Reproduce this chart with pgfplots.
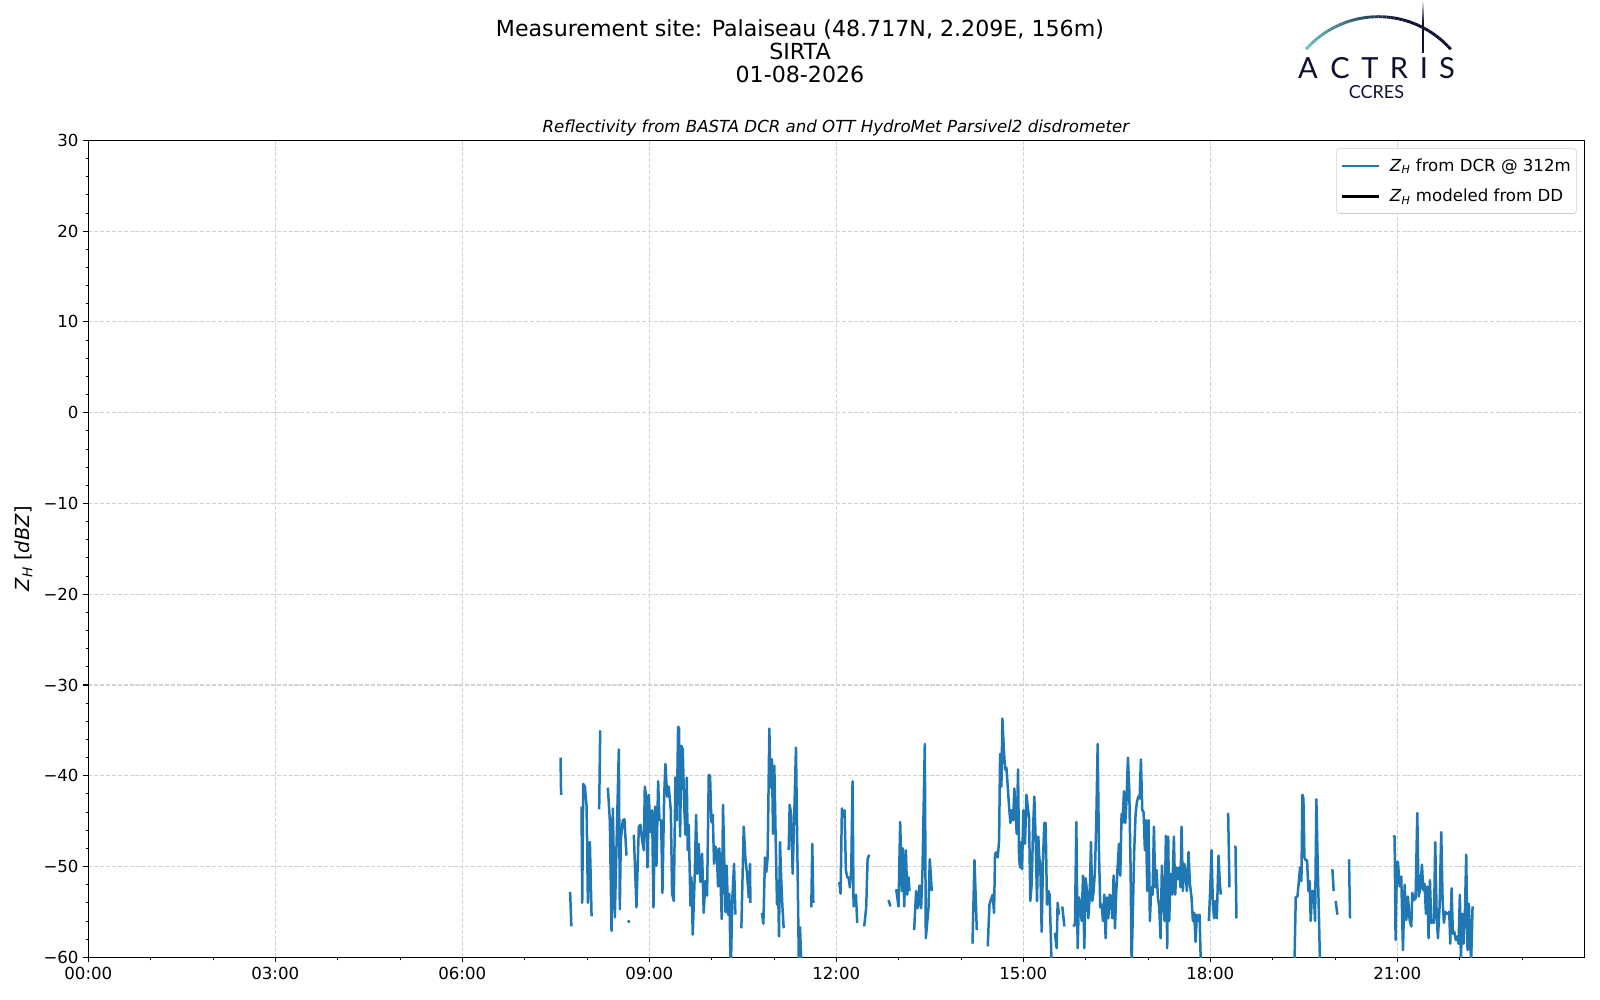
\documentclass[border=0pt]{standalone}
\usepackage{pgfplots}
\pgfplotsset{compat=1.18}
\usepackage{pgfplotstable}
\usepackage{fontspec}
\setmainfont{DejaVu Sans}
\newfontfamily\logofont{Lato}
\definecolor{tabblue}{HTML}{1F77B4}
\definecolor{logonavy}{HTML}{0E1130}
\definecolor{logoteal}{HTML}{6CC3C3}
\definecolor{gridgray}{HTML}{D3D3D3}

\pgfplotstableread{
x y
7.576 -38.0
7.585 -42.1
nan nan
7.73 -52.8
7.75 -56.6
nan nan
7.913 -43.4
7.924 -54.0
7.94 -40.9
7.967 -41.2
7.994 -43.4
8.015 -54.0
8.047 -47.3
8.074 -55.5
nan nan
8.196 -43.7
8.212 -35.0
nan nan
8.335 -41.3
8.367 -44.9
8.394 -57.1
8.415 -43.6
8.447 -55.6
8.511 -37.1
8.527 -54.7
8.543 -47.1
8.575 -44.9
8.601 -44.8
8.634 -48.8
nan nan
8.65 -56.0
8.69 -56.1
nan nan
8.752 -46.5
8.794 -54.5
8.832 -45.6
8.858 -45.4
8.885 -47.1
8.912 -48.2
8.928 -41.2
8.949 -42.3
8.971 -50.1
8.992 -42.1
9.019 -46.2
9.045 -43.8
9.067 -54.5
9.093 -43.4
9.115 -49.9
9.142 -40.6
9.163 -44.9
9.19 -44.9
9.211 -52.9
9.238 -42.3
9.259 -38.7
9.286 -42.3
9.312 -41.2
9.345 -43.8
9.366 -53.0
9.393 -53.8
9.419 -40.2
9.441 -44.9
9.462 -34.6
9.478 -34.8
9.494 -46.7
9.515 -36.7
9.537 -37.1
9.558 -43.0
9.58 -46.5
9.601 -40.2
9.617 -48.2
9.633 -45.4
9.660 -54.3
9.676 -51.2
9.697 -57.5
9.729 -51.0
9.751 -44.3
9.772 -50.8
9.793 -47.5
9.82 -51.7
9.847 -48.6
9.873 -55.1
9.9 -51.6
9.927 -53.2
9.954 -39.9
9.975 -40.0
9.996 -45.1
10.018 -44.3
10.039 -49.7
10.06 -47.8
10.082 -48.2
10.103 -52.2
10.124 -48.0
10.146 -52.2
10.162 -55.8
10.183 -43.2
10.205 -50.1
10.221 -55.0
10.242 -49.9
10.263 -55.3
10.285 -53.0
10.306 -62.0
10.333 -53.4
10.36 -49.7
10.381 -55.3
nan nan
10.477 -56.8
10.515 -45.6
10.541 -49.0
10.568 -50.8
10.595 -53.4
10.616 -49.7
10.622 -54.0
nan nan
10.808 -55.1
10.83 -56.3
10.856 -49.0
10.878 -50.6
10.899 -49.0
10.926 -34.8
10.947 -41.3
10.968 -38.2
10.985 -46.4
11.006 -38.9
11.027 -46.7
11.049 -54.2
11.065 -51.6
11.081 -57.7
11.097 -47.3
11.118 -51.7
11.134 -54.2
11.156 -56.8
nan nan
11.236 -48.2
11.252 -43.2
11.273 -44.1
11.3 -50.8
11.321 -45.6
11.353 -36.9
11.40 -61.0
nan nan
11.418 -56.6
11.44 -61.0
nan nan
11.599 -54.5
11.615 -47.5
11.631 -54.0
nan nan
12.048 -51.7
12.069 -53.0
12.09 -43.6
12.112 -44.3
12.133 -43.8
12.154 -50.4
12.176 -51.2
12.197 -51.2
12.218 -52.3
12.24 -50.4
12.261 -40.6
12.277 -54.4
12.315 -53.1
12.336 -56.2
nan nan
12.448 -56.6
12.48 -54.5
12.502 -49.2
12.528 -48.7
nan nan
12.838 -53.7
12.87 -54.4
nan nan
12.961 -52.5
12.998 -54.4
13.025 -45.1
13.052 -52.7
13.068 -48.0
13.09 -54.4
13.116 -48.2
13.138 -53.1
13.159 -51.2
13.175 -52.7
nan nan
13.249 -57.0
13.281 -52.7
13.308 -54.6
13.335 -52.1
13.361 -54.6
13.383 -50.4
13.42 -36.5
13.436 -57.9
13.479 -54.6
13.5 -49.2
13.532 -52.7
nan nan
14.185 -58.5
14.217 -49.3
14.254 -57.0
nan nan
14.43 -58.8
14.457 -54.2
14.483 -53.6
14.51 -53.1
14.531 -55.1
14.547 -48.6
14.574 -48.4
14.59 -49.0
14.612 -47.1
14.628 -37.6
14.649 -41.2
14.665 -33.7
14.687 -37.0
14.708 -39.3
14.729 -39.1
14.751 -41.2
14.772 -43.4
14.793 -45.2
14.815 -43.8
14.836 -44.9
14.857 -41.4
14.879 -44.6
14.895 -46.4
14.916 -39.3
14.932 -49.0
14.948 -50.1
14.964 -47.3
14.98 -50.3
15.001 -43.8
15.028 -47.5
15.05 -42.1
15.071 -43.4
15.092 -44.6
15.113 -53.8
15.135 -51.9
15.156 -46.0
15.177 -42.3
15.199 -47.1
15.22 -53.8
15.241 -46.7
15.257 -49.0
15.273 -49.9
15.295 -57.2
15.316 -49.3
15.337 -45.2
15.359 -45.2
15.38 -54.2
15.402 -52.7
15.423 -53.1
15.455 -61.0
nan nan
15.508 -57.3
15.535 -59.0
15.551 -54.0
15.572 -55.3
nan nan
15.626 -54.4
15.659 -56.6
nan nan
15.803 -56.6
15.829 -56.4
15.851 -45.1
15.872 -59.0
15.894 -53.4
15.915 -54.2
15.936 -56.0
15.958 -51.0
15.979 -59.0
16.0 -51.3
16.022 -52.7
16.043 -55.7
16.065 -53.4
16.086 -47.3
16.107 -53.8
16.129 -52.7
16.15 -50.4
16.171 -45.2
16.193 -36.5
16.214 -48.2
16.235 -54.5
16.257 -54.2
16.278 -56.0
16.3 -53.1
16.321 -57.9
16.342 -53.4
16.364 -55.7
16.385 -53.1
16.406 -53.3
16.428 -55.7
16.449 -51.0
16.471 -56.8
16.492 -52.7
16.513 -50.1
16.535 -47.5
16.556 -51.0
16.577 -44.2
16.593 -45.2
16.615 -41.7
16.636 -45.2
16.657 -42.6
16.679 -38.0
16.7 -41.5
16.722 -50.4
16.738 -61.0
16.78 -48.2
16.802 -44.2
16.823 -42.9
16.844 -42.3
16.866 -42.5
16.887 -38.2
16.909 -43.8
16.93 -44.0
16.951 -48.2
16.967 -44.9
16.989 -52.7
17.01 -44.9
17.031 -56.0
17.053 -52.3
17.074 -53.1
17.096 -45.6
17.117 -52.3
17.138 -50.4
17.16 -53.4
17.181 -54.5
17.202 -57.9
17.224 -49.9
17.245 -53.4
17.266 -56.0
17.288 -46.6
17.309 -59.0
17.325 -46.7
17.341 -56.0
17.363 -50.8
17.389 -53.1
17.416 -46.7
17.437 -53.1
17.459 -50.1
17.48 -51.4
17.501 -50.1
17.523 -52.3
17.539 -45.6
17.56 -52.7
17.582 -49.7
17.603 -50.6
17.624 -52.7
17.651 -48.4
17.673 -51.9
17.699 -53.4
17.721 -56.0
17.742 -55.1
17.764 -58.3
17.785 -55.3
17.806 -56.0
17.828 -55.3
17.849 -61.0
nan nan
17.977 -56.0
17.998 -52.7
18.02 -48.2
18.041 -54.0
18.062 -55.7
18.084 -53.8
18.105 -55.7
18.132 -48.8
18.153 -51.8
18.169 -53.1
nan nan
18.287 -44.1
18.308 -52.3
nan nan
18.404 -47.7
18.42 -55.7
nan nan
19.35 -61.0
19.371 -53.4
19.398 -53.3
19.424 -51.4
19.44 -50.1
19.462 -51.6
19.478 -42.1
19.494 -42.5
19.51 -49.0
19.531 -49.3
19.553 -49.3
19.574 -52.7
19.595 -51.6
19.611 -56.0
19.633 -52.7
19.659 -52.7
19.681 -56.0
19.702 -42.6
19.724 -50.0
19.745 -56.0
19.761 -61.0
nan nan
19.959 -50.3
19.98 -52.7
nan nan
20.012 -53.8
20.039 -55.3
nan nan
20.226 -49.2
20.242 -55.7
nan nan
20.936 -46.6
20.957 -46.7
20.973 -58.1
20.995 -49.5
21.011 -49.5
21.038 -52.2
21.064 -51.1
21.091 -59.2
21.118 -52.0
21.145 -55.9
21.171 -53.3
21.198 -55.9
21.225 -56.6
21.241 -52.9
21.267 -53.7
21.294 -53.5
21.321 -44.1
21.342 -53.3
21.369 -52.4
21.396 -49.8
21.417 -52.6
21.438 -51.9
21.46 -55.2
21.481 -52.2
21.502 -57.9
21.524 -51.5
21.545 -56.2
21.567 -56.1
21.588 -56.2
21.609 -47.3
21.631 -55.2
21.652 -57.9
21.679 -54.4
21.705 -46.2
21.727 -53.7
21.748 -56.2
21.77 -55.0
21.791 -55.2
21.812 -55.2
21.834 -55.0
21.85 -58.5
21.871 -52.4
21.892 -57.4
21.914 -57.2
21.94 -58.1
21.962 -57.7
21.983 -58.5
22.004 -53.1
22.021 -60.2
22.042 -55.2
22.063 -58.5
22.085 -55.2
22.106 -48.7
22.127 -59.2
22.149 -54.1
22.17 -58.8
22.186 -60.2
22.208 -54.4
}\dcr

\begin{document}
\begin{tikzpicture}
\useasboundingbox (0,0) rectangle (1152bp,720bp);
\begin{axis}[
  at={(63.58bp,30.74bp)}, anchor=south west, scale only axis,
  width=1077.1bp, height=588.2bp,
  xmin=0, xmax=24, ymin=-60, ymax=30,
  unbounded coords=jump,
  xtick={0,3,...,21},
  xticklabels={00:00,03:00,06:00,09:00,12:00,15:00,18:00,21:00},
  minor xtick={1,2,4,5,7,8,10,11,13,14,16,17,19,20,22,23},
  ytick={-60,-50,...,30},
  yticklabels={−60,−50,−40,−30,−20,−10,0,10,20,30},
  minor ytick={-58,-56,...,28},
  xtick pos=left, ytick pos=left,
  tick align=outside,
  major tick length=3.5bp, minor tick length=2bp,
  every tick/.style={black, line width=0.8bp},
  minor tick style={black, line width=0.6bp},
  xmajorgrids, ymajorgrids,
  major grid style={dash pattern=on 2.96bp off 1.28bp, color=gridgray, line width=0.8bp},
  axis line style={line width=0.8bp},
  /pgf/number format/assume math mode=true,
  ticklabel style={font=\fontsize{12}{14}\selectfont},
  ylabel={\textit{Z}\textsubscript{\textit{H}} [\textit{dBZ}]},
  ylabel style={font=\fontsize{14}{16}\selectfont, at={(axis description cs:-0.0434,0.5)}, anchor=center, rotate=0},
  title={\textit{Reflectivity from BASTA DCR and OTT HydroMet Parsivel2 disdrometer}},
  title style={font=\fontsize{12}{14}\selectfont, at={(axis description cs:0.5,1)}, anchor=base},
  legend cell align=left,
  legend style={at={(axis description cs:1,1)}, anchor=north east, xshift=-5.5bp, yshift=-5.8bp,
    draw=black!20, rounded corners=2bp, fill=white, font=\fontsize{12}{14}\selectfont,
    inner xsep=3bp, inner ysep=6bp, row sep=9.5bp, nodes={inner sep=1bp}},
  legend image code/.code={\draw[#1, line width=1.8bp, solid] (0bp,0bp) -- (26.6bp,0bp);},
]
\addplot[tabblue, line width=1.8bp, line join=round] table {\dcr};
\addlegendentry{\hspace{6bp}\textit{Z}\textsubscript{\textit{H}} from DCR @ 312m}
\addlegendimage{draw=black, line width=1.8bp, solid}
\addlegendentry{\hspace{6bp}\textit{Z}\textsubscript{\textit{H}} modeled from DD}
\end{axis}

\begin{scope}[x=0.72bp, y=-0.72bp, shift={(0bp,720bp)}]
  % suptitle
  \node[anchor=base, font=\fontsize{16}{18}\selectfont, inner sep=0] at (800,36.7) {Measurement site: Palaiseau (48.717N, 2.209E, 156m)};
  \node[anchor=base, font=\fontsize{16}{18}\selectfont, inner sep=0] at (800,59.3) {SIRTA};
  \node[anchor=base, font=\fontsize{16}{18}\selectfont, inner sep=0] at (800,82.3) {01-08-2026};
  % logo arc
  \foreach \i in {0,...,39} {
    \pgfmathsetmacro\aa{138.5-\i*97/40}
    \pgfmathsetmacro\ab{138.5-(\i+1)*97/40}
    \pgfmathsetmacro\mx{min(100,160*\i/39)}
    \draw[line width=2.1bp, color=logonavy!\mx!logoteal, line cap=butt]
      ({1378.4+96.6*cos(\aa)},{113.3-96.6*sin(\aa)}) -- ({1378.4+96.6*cos(\ab)},{113.3-96.6*sin(\ab)});
  }
  % vertical line with fade at top
  \foreach \i in {0,...,9} {
    \pgfmathsetmacro\mx{10*(\i+1)}
    \draw[line width=1.6bp, color=logonavy!\mx!white] (1423.3,{1.7+\i*2.2}) -- (1423.3,{1.7+(\i+1)*2.2});
  }
  \draw[line width=1.6bp, color=logonavy] (1423.3,23.6) -- (1423.3,53.3);
  % ACTRIS letters
  \foreach \l/\xx in {A/1308,C/1340,T/1370,R/1399,I/1424,S/1447} {
    \node[anchor=base, inner sep=0, text=logonavy, font=\logofont\fontsize{21}{21}\selectfont] at (\xx,78.3) {\l};
  }
  \node[anchor=base, inner sep=0, text=logonavy, font=\logofont\fontsize{13}{13}\selectfont] at (1376.5,99) {CCRES};
\end{scope}
\end{tikzpicture}
\end{document}
